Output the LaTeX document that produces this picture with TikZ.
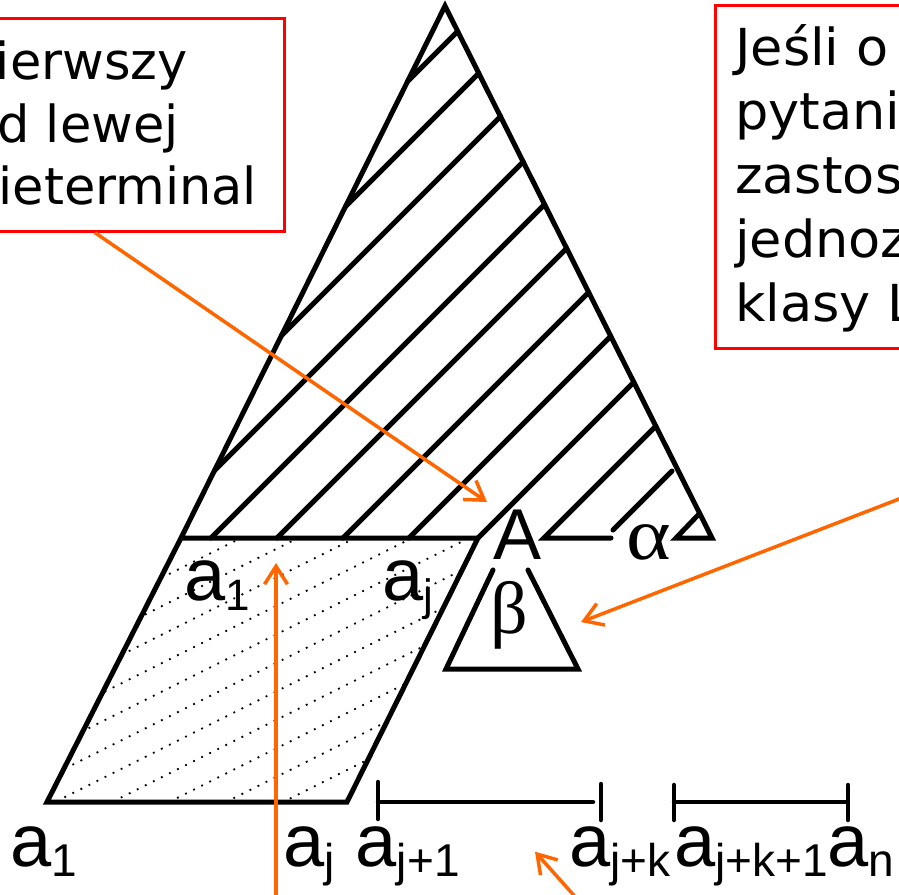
\documentclass[tikz,border=0pt]{standalone}
\usepackage{graphicx}
\usepackage{fontspec}
\setmainfont{Liberation Sans}
\newfontfamily\boxfont{DejaVu Sans}
\newfontfamily\boxfontw[FakeStretch=1.03]{DejaVu Sans}
\newfontfamily\grfont{Liberation Serif}
\usetikzlibrary{arrows.meta}
\definecolor{orng}{RGB}{255,102,0}
\newcommand{\mysub}[2][46]{a\raisebox{-10pt}{\fontsize{#1}{#1}\selectfont #2}}
\begin{document}
\begin{tikzpicture}[x=1pt,y=-1pt,
  ln/.style={line width=5pt,line cap=round,line join=miter},
  bar/.style={line width=4.5pt,line cap=round},
  dotl/.style={line width=1.8pt,dash pattern=on 1.8pt off 7.2pt},
  arr/.style={draw=orng,line width=3.5pt,-{Straight Barb[length=18pt,width=23pt]}},
  redbox/.style={draw=red,line width=2.7pt,rectangle,inner sep=0pt},
  bt/.style={anchor=base west,inner sep=0pt,font=\boxfont\fontsize{51}{51}\selectfont},
  btw/.style={anchor=base west,inner sep=0pt,font=\boxfontw\fontsize{51}{51}\selectfont},
  lbl/.style={anchor=base west,inner sep=0pt,font=\fontsize{74}{74}\selectfont},
  gr/.style={anchor=base,inner sep=0pt,font=\grfont\fontsize{74}{74}\selectfont}]
\useasboundingbox (0,0) rectangle (899,894);
\clip (0,0) rectangle (899,894);
\fill[white] (0,0) rectangle (899,894);

% red boxes
\node[redbox,minimum width=343pt,minimum height=213pt,anchor=north west] (box1) at (-60,17) {};
\node[redbox,minimum width=300pt,minimum height=343pt,anchor=north west] (box2) at (714,4) {};
\node[bt] (b1l1) at (-34,79) {Pierwszy};
\node[bt] (b1l2) at (-34,142) {od lewej};
\node[bt] (b1l3) at (-34,204) {nieterminal};
\node[btw] (b2l1) at (735,65) {Jeśli o};
\node[btw] (b2l2) at (735,129) {pytani};
\node[btw] (b2l3) at (735,193) {zastos};
\node[btw] (b2l4) at (735,257) {jednoz};
\node[btw] (b2l5) at (735,321) {klasy L};

% dotted hatching in the parallelogram
\begin{scope}
  \clip (181,538) -- (478,538) -- (347,802) -- (47,802) -- cycle;
  \foreach \c in {630,658.5,...,975} \draw[dotl] (0,\c) -- (600,\c-300);
\end{scope}

% main outline
\draw[ln] (699,514) -- (676,538) -- (712,538) -- (445,6) -- (181,538) -- (47,802)
  -- (347,802) -- (478,538) -- (181,538);
% hatch lines
\draw[ln] (457.7,31.3) -- (407.58,81.42);
\draw[ln] (478.75,73.25) -- (345.53,206.47);
\draw[ln] (500.47,116.53) -- (281.51,335.49);
\draw[ln] (523.2,161.8) -- (214.53,470.47);
\draw[ln] (544.59,204.41) -- (211,538);
\draw[ln] (566.64,248.36) -- (277,538);
\draw[ln] (588.7,292.3) -- (343,538);
\draw[ln] (610.75,336.25) -- (409,538);
\draw[ln] (633.81,382.19) -- (478,538);
\draw[ln] (655.87,426.13) -- (544,538) -- (611,538);
\draw[ln] (672,471) -- (613,530);

% beta triangle
\draw[ln] (493,570) -- (446,669) -- (578,669) -- (528,570);

% intervals
\draw[bar] (378,802) -- (593,802);
\draw[bar] (378,782) -- (378,819);
\draw[bar] (601,784) -- (601,820);
\draw[bar] (674,802) -- (847,802);
\draw[bar] (674,785) -- (674,820);
\draw[bar] (848,785) -- (848,820);

% labels
\node[lbl] (ua1) at (184,600) {\mysub[44]{1}};
\node[lbl] (uaj) at (382.3,600) {\mysub[44]{j}};
\node[lbl,font=\fontsize{72}{72}\selectfont] (Alab) at (493,559) {A};
\node[gr] (alph) at (649,559) {\scalebox{1.15}[1]{α}};
\node[gr] (beta) at (509,633) {β};
\node[lbl] (la1) at (10,866) {\mysub{1}};
\node[lbl] (laj) at (283.3,866) {\mysub{j}};
\node[lbl] (laj1) at (355.6,866) {\mysub{j+1}};
\node[lbl] (lajk) at (569,866) {\mysub{j+k}};
\node[lbl] (lajk1) at (674,866) {\mysub{j+k+1}};
\node[lbl] (lan) at (827.3,866) {\mysub{n}};

% orange arrows
\coordinate (e1) at (487,502);
\coordinate (s2) at (960,475.4);
\coordinate (e2) at (581,622);
\coordinate (s3) at (276,900);
\coordinate (e3) at (276,563);
\coordinate (s4) at (578,900);
\coordinate (e4) at (535,851.7);
\draw[arr] ([xshift=155pt]box1.south west) -- (e1);
\draw[arr] (s2) -- (e2);
\draw[arr] (s3) -- (e3);
\draw[arr] (s4) -- (e4);
\end{tikzpicture}
\end{document}
